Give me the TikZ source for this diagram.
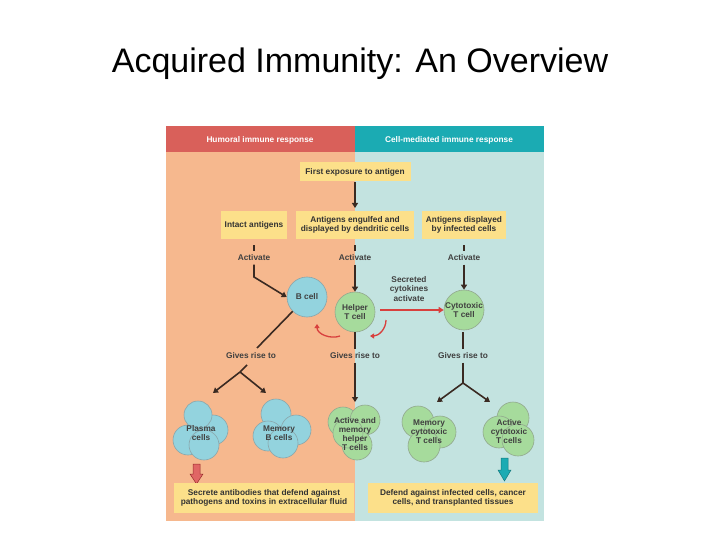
\documentclass[tikz,border=0pt]{standalone}
\usepackage{fontspec}
\setmainfont{Liberation Sans}
\usetikzlibrary{arrows.meta}
\definecolor{hred}{HTML}{D9605A}
\definecolor{hteal}{HTML}{1BABB3}
\definecolor{bgor}{HTML}{F6B88E}
\definecolor{bgte}{HTML}{C3E3E0}
\definecolor{ybox}{HTML}{FCE08A}
\definecolor{bcell}{HTML}{93D3DE}
\definecolor{tcell}{HTML}{A6DB9C}
\definecolor{dk}{HTML}{3A2A22}
\definecolor{rarr}{HTML}{D8403E}
\begin{document}
\begin{tikzpicture}[x=1pt,y=-1pt,
 box/.style={fill=ybox,inner sep=2pt,font=\fontsize{8.3}{9.5}\selectfont\bfseries,align=center,text=black!80},
 lab/.style={font=\fontsize{8.3}{9.5}\selectfont\bfseries,text=black!75,align=center},
 arr/.style={draw=dk,line width=1.6pt,-{Triangle[length=5pt,width=6pt]}},
 ln/.style={draw=dk,line width=1.6pt},
 bc/.style={circle,draw=bcell!60!black!70,fill=bcell,line width=0.6pt},
 tc/.style={circle,draw=tcell!60!black!70,fill=tcell,line width=0.6pt},
 ctext/.style={font=\fontsize{8.3}{9}\selectfont\bfseries,text=black!75,align=center}]
\useasboundingbox (0,0) rectangle (720,540);
\fill[white] (0,0) rectangle (720,540);
\node (title) at (360,64) {\fontsize{34}{38}\selectfont Acquired Immunity: An Overview};
\fill[bgor] (166,126) rectangle (355,521);
\fill[bgte] (355,126) rectangle (544,521);
\fill[hred] (166,126) rectangle (355,152);
\fill[hteal] (355,126) rectangle (544,152);
\node[lab,text=white] (h1) at (260,140) {Humoral immune response};
\node[lab,text=white] (h2) at (449,140) {Cell-mediated immune response};
\node[box,minimum width=111pt,minimum height=19pt] (first) at (355,172) {First exposure to antigen};
\node[box,minimum width=66pt,minimum height=28pt] (intact) at (254,225) {Intact antigens};
\node[box,minimum width=118pt,minimum height=28pt] (engulf) at (355,225) {Antigens engulfed and\\displayed by dendritic cells};
\node[box,minimum width=84pt,minimum height=28pt] (disp) at (464,225) {Antigens displayed\\by infected cells};
\draw[arr] (first) -- (355,208);
\node[lab] (a1) at (254,258) {Activate};
\node[lab] (a2) at (355,258) {Activate};
\node[lab] (a3) at (464,258) {Activate};
\node[bc,minimum size=40pt] (B) at (307,297) {};
\node[ctext] at (B) {B cell};
\node[tc,minimum size=40pt] (H) at (355,312) {};
\node[ctext] at (H) {Helper\\T cell};
\node[tc,minimum size=40pt] (C) at (464,310) {};
\node[ctext] at (C) {Cytotoxic\\T cell};
\draw[ln] (254,245) -- (a1.north); \draw[arr] (a1.south) -- (254,277) -- (B.west);
\draw[ln] (355,245) -- (a2.north); \draw[arr] (a2.south) -- (H.north);
\draw[ln] (464,245) -- (a3.north); \draw[arr] (a3.south) -- (C.north);
\node[lab] (sec) at (409,289) {Secreted\\cytokines\\activate};
\draw[draw=rarr,line width=1.4pt,-{Triangle[length=5pt,width=6pt]}] (H.east) ++(5,-2) -- (C.west);
\draw[draw=rarr,line width=1.3pt,-{Triangle[length=4pt,width=5pt]}] (340,336) to[out=200,in=270] (317,324);
\draw[draw=rarr,line width=1.3pt,-{Triangle[length=4pt,width=5pt]}] (386,320) to[out=270,in=0] (370,336);
\node[lab] (g1) at (251,356) {Gives rise to};
\node[lab] (g2) at (355,356) {Gives rise to};
\node[lab] (g3) at (463,356) {Gives rise to};
\draw[ln] (B.south west) -- (257,348);
\draw[ln] (247,365) -- (240,372);
\coordinate (f1) at (240,372);
\draw[arr] (f1) -- (213,393); \draw[arr] (f1) -- (266,393);
\draw[ln] (355,332) -- (g2.north); \draw[arr] (g2.south) -- (355,402);
\draw[ln] (463,332) -- (g3.north); \draw[ln] (g3.south) -- (463,383);
\coordinate (f3) at (463,383);
\draw[arr] (f3) -- (437,402); \draw[arr] (f3) -- (490,402);
% clusters
\node[bc,minimum size=30pt] at (213,430) {};
\node[bc,minimum size=28pt] at (198,415) {};
\node[bc,minimum size=30pt] at (188,440) {};
\node[bc,minimum size=30pt] (p) at (204,445) {};
\node[ctext] (plasma) at (201,433) {Plasma\\cells};
\node[bc,minimum size=30pt] at (276,414) {};
\node[bc,minimum size=30pt] at (296,430) {};
\node[bc,minimum size=30pt] at (268,436) {};
\node[bc,minimum size=30pt] at (283,443) {};
\node[ctext] (memb) at (279,433) {Memory\\B cells};
\node[tc,minimum size=30pt] at (343,422) {};
\node[tc,minimum size=30pt] at (365,420) {};
\node[tc,minimum size=30pt] at (357,445) {};
\node[tc,minimum size=30pt] at (348,433) {};
\node[ctext] (amh) at (355,434) {Active and\\memory\\helper\\T cells};
\node[tc,minimum size=32pt] at (418,422) {};
\node[tc,minimum size=32pt] at (440,432) {};
\node[tc,minimum size=32pt] at (424,446) {};
\node[ctext] (mct) at (429,432) {Memory\\cytotoxic\\T cells};
\node[tc,minimum size=32pt] at (513,418) {};
\node[tc,minimum size=32pt] at (499,432) {};
\node[tc,minimum size=32pt] at (518,440) {};
\node[ctext] (act) at (509,432) {Active\\cytotoxic\\T cells};
\filldraw[draw=rarr!70!black,fill=rarr!80!white,line width=0.5pt] (193,464) -- (200,464) -- (200,474) -- (203,474) -- (196.5,484) -- (190,474) -- (193,474) -- cycle;
\filldraw[draw=hteal!70!black,fill=hteal,line width=0.5pt] (501,458) -- (508,458) -- (508,470) -- (511,470) -- (504.5,481) -- (498,470) -- (501,470) -- cycle;
\node[box,minimum width=180pt,minimum height=30pt] (bl) at (264,498) {Secrete antibodies that defend against\\pathogens and toxins in extracellular fluid};
\node[box,minimum width=170pt,minimum height=30pt] (br) at (453,498) {Defend against infected cells, cancer\\cells, and transplanted tissues};
\end{tikzpicture}
\end{document}
